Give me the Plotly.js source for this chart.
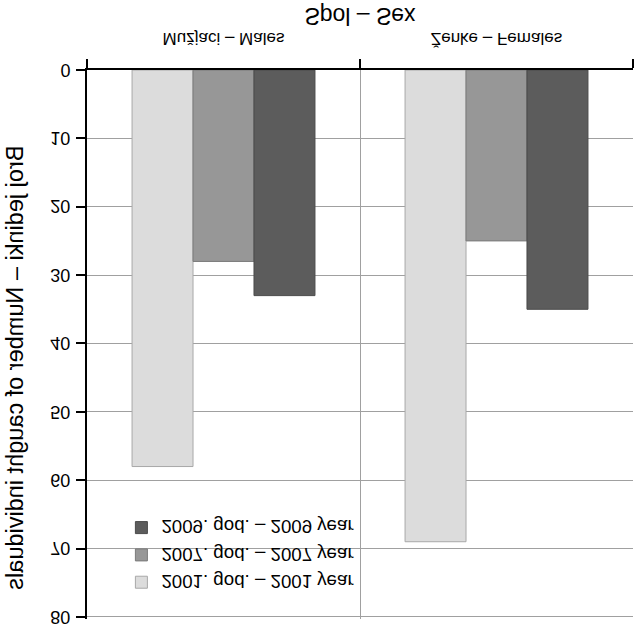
<!DOCTYPE html>
<html>
<head>
<meta charset="utf-8">
<script src="https://cdn.plot.ly/plotly-3.0.1.min.js"></script>
<style>
  html, body { margin: 0; padding: 0; background: #fff; overflow: hidden; }
  #chart { width: 635px; height: 625px; transform: scaleY(-1); transform-origin: 50% 50%; }
</style>
</head>
<body>
<div id="chart"></div>
<script>
// Categories (x axis)
const categories = ["Mužjaci – Males", "Ženke – Females"];
// Series names (legend)
const seriesNames = ["2001. god. – 2001 year", "2007. god. – 2007 year", "2009. god. – 2009 year"];
// Series values (number of caught individuals) per category
const values2001 = [58, 69];
const values2007 = [28, 25];
const values2009 = [33, 35];
// Tick values for y axis
const yTicks = [0, 10, 20, 30, 40, 50, 60, 70, 80];
// Axis titles
const xTitle = "Spol – Sex";
const yTitle = "Broj jedinki – Number of caught individuals";

const seriesValues = [values2001, values2007, values2009];
const fills = ["#dcdcdc", "#979797", "#5c5c5c"];
const outlines = ["#a8a8a8", "#7a7a7a", "#4a4a4a"];

const FONT = "Liberation Sans, Arial, sans-serif";

const traces = seriesNames.map((name, i) => ({
  type: "bar",
  name: name,
  x: categories,
  y: seriesValues[i],
  marker: { color: fills[i], line: { color: outlines[i], width: 1 } },
  hoverinfo: "skip"
}));

const layout = {
  width: 635,
  height: 625,
  margin: { l: 87, r: 2, t: 6, b: 70, pad: 0 },
  paper_bgcolor: "#fff",
  plot_bgcolor: "#fff",
  font: { family: FONT, size: 17, color: "#000" },
  barmode: "group",
  bargap: 0.33,
  bargroupgap: 0,
  showlegend: true,
  legend: {
    x: 0.063, y: 0.967, xanchor: "left", yanchor: "top",
    bgcolor: "rgba(0,0,0,0)", borderwidth: 0,
    font: { family: FONT, size: 18.7, color: "#000" },
    traceorder: "normal",
    tracegroupgap: 0
  },
  xaxis: {
    type: "category",
    showline: true, linecolor: "#000", linewidth: 2,
    ticks: "outside", ticklen: 9, tickwidth: 2, tickcolor: "#000",
    tickson: "boundaries",
    showgrid: true, gridcolor: "#a0a0a0", gridwidth: 1,
    ticklabelstandoff: 15,
    tickfont: { family: FONT, size: 17 },
    title: { text: xTitle, font: { family: FONT, size: 23 }, standoff: 6 },
    automargin: false
  },
  yaxis: {
    range: [0, 80.3],
    tickvals: yTicks,
    showline: true, linecolor: "#000", linewidth: 2,
    ticks: "outside", ticklen: 9, tickwidth: 2, tickcolor: "#000",
    showgrid: true, gridcolor: "#a0a0a0", gridwidth: 1,
    zeroline: false,
    ticklabelstandoff: 2,
    ticklabeloverflow: "allow",
    tickfont: { family: FONT, size: 18 },
    automargin: false
  },
  annotations: [{
    text: yTitle,
    xref: "paper", yref: "paper",
    x: -72 / 546, y: 0.542,
    xanchor: "center", yanchor: "middle",
    textangle: -90, showarrow: false,
    font: { family: FONT, size: 23.5, color: "#000" }
  }]
};

Plotly.newPlot("chart", traces, layout, { staticPlot: true, displayModeBar: false });
</script>
</body>
</html>
